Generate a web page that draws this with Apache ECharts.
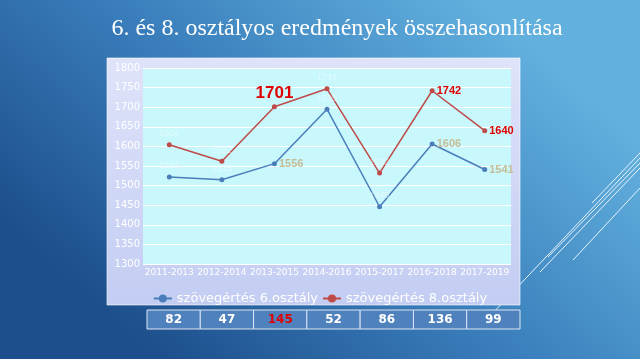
<!DOCTYPE html>
<html><head><meta charset="utf-8">
<script src="https://cdn.jsdelivr.net/npm/echarts@6/dist/echarts.min.js"></script>
<style>html,body{margin:0;padding:0;}#c{width:640px;height:359px;}</style>
</head><body><div id="c"></div>
<script>
var categories = ['2011-2013','2012-2014','2013-2015','2014-2016','2015-2017','2016-2018','2017-2019'];
var grade6 = [1522, 1515, 1556, 1695, 1446, 1606, 1541];
var grade8 = [1604, 1562, 1701, 1747, 1532, 1742, 1640];
var differences = [82, 47, 145, 52, 86, 136, 99];
var yTicks = {min: 1300, max: 1800, step: 50};
var seriesNames = ['szövegértés 6.osztály', 'szövegértés 8.osztály'];
var titleText = '6. és 8. osztályos eredmények összehasonlítása';

var maxDiff = Math.max.apply(null, differences);
var faint = {show: true, position: 'top', color: 'rgba(255,255,255,0.45)', fontSize: 9, distance: 4};

function lbl6(i) {
  if (i === 2 || i === 5 || i === 6) return {show: true, position: 'right', distance: 2, color: '#c4bd97', fontWeight: 'bold', fontSize: 11};
  return faint;
}
function lbl8(i) {
  if (i === 2) return {show: true, position: 'top', distance: 2, color: '#e00000', fontWeight: 'bold', fontSize: 17};
  if (i === 5 || i === 6) return {show: true, position: 'right', distance: 2, color: '#e00000', fontWeight: 'bold', fontSize: 11};
  return faint;
}

var chart = echarts.init(document.getElementById('c'));
chart.setOption({
  backgroundColor: {type: 'linear', x: 0.75, y: 0, x2: 0.25, y2: 1, colorStops: [
    {offset: 0, color: '#62b0de'}, {offset: 0.5, color: '#3a7fbc'}, {offset: 1, color: '#1d4f8c'}]},
  animation: false,
  title: {text: titleText, left: 332, top: 12, textAlign: 'center',
    textStyle: {color: '#ffffff', fontFamily: 'Liberation Serif', fontWeight: 'normal', fontSize: 24}},
  graphic: [
    {type: 'line', z: -20, shape: {x1: 640, y1: 153, x2: 592, y2: 203}, style: {stroke: '#e8f4ff', lineWidth: 1}},
    {type: 'line', z: -20, shape: {x1: 640, y1: 163, x2: 548, y2: 257}, style: {stroke: '#e8f4ff', lineWidth: 1}},
    {type: 'line', z: -20, shape: {x1: 640, y1: 168, x2: 540, y2: 272}, style: {stroke: '#e8f4ff', lineWidth: 1}},
    {type: 'line', z: -20, shape: {x1: 640, y1: 188, x2: 573, y2: 260}, style: {stroke: '#e8f4ff', lineWidth: 1}},
    {type: 'line', z: -20, shape: {x1: 640, y1: 158, x2: 490, y2: 316}, style: {stroke: '#e8f4ff', lineWidth: 1}},
    {type: 'rect', z: -10, shape: {x: 107, y: 58, width: 413, height: 247},
      style: {fill: {type: 'linear', x: 0, y: 0, x2: 0, y2: 1, colorStops: [{offset: 0, color: '#dfe3fa'}, {offset: 1, color: '#c3cdf2'}]},
        stroke: 'rgba(255,255,255,0.6)', lineWidth: 1}}
  ],
  legend: {data: seriesNames, left: 'center', top: 287, itemWidth: 18, itemHeight: 10, itemGap: 4,
    textStyle: {color: '#ffffff', fontSize: 13, fontFamily: 'DejaVu Sans'}},
  grid: [
    {left: 143, right: 129, top: 68, height: 196, show: true, backgroundColor: '#c8f8fc', borderWidth: 0},
    {left: 147, right: 120, top: 310, height: 19, show: false}
  ],
  xAxis: [
    {type: 'category', gridIndex: 0, data: categories, boundaryGap: true,
      axisLine: {show: false}, axisTick: {show: false},
      axisLabel: {color: '#ffffff', fontSize: 9, margin: 4, interval: 0, fontFamily: 'DejaVu Sans'}},
    {type: 'category', gridIndex: 1, data: categories, show: false}
  ],
  yAxis: [
    {type: 'value', gridIndex: 0, min: yTicks.min, max: yTicks.max, interval: yTicks.step,
      axisLine: {show: false}, axisTick: {show: false},
      splitLine: {lineStyle: {color: '#ffffff', width: 1}},
      axisLabel: {color: '#ffffff', fontSize: 10, margin: 3, fontFamily: 'DejaVu Sans', formatter: function (v) { return String(v); }}},
    {type: 'value', gridIndex: 1, min: 0, max: 1, show: false}
  ],
  series: [
    {name: seriesNames[0], type: 'line', xAxisIndex: 0, yAxisIndex: 0,
      data: grade6.map(function (v, i) { return {value: v, label: lbl6(i)}; }),
      symbol: 'circle', symbolSize: 5, itemStyle: {color: '#4a7ebb'}, lineStyle: {color: '#4a7ebb', width: 1.5}},
    {name: seriesNames[1], type: 'line', xAxisIndex: 0, yAxisIndex: 0,
      data: grade8.map(function (v, i) { return {value: v, label: lbl8(i)}; }),
      symbol: 'circle', symbolSize: 5, itemStyle: {color: '#be4b48'}, lineStyle: {color: '#be4b48', width: 1.5}},
    {type: 'custom', xAxisIndex: 1, yAxisIndex: 1, silent: true,
      data: differences.map(function (d, i) { return [i, d]; }),
      renderItem: function (params, api) {
        var c = api.coord([api.value(0), 0]);
        var w = api.size([1, 0])[0];
        var cs = params.coordSys;
        var v = api.value(1);
        return {type: 'group', children: [
          {type: 'rect', shape: {x: c[0] - w / 2, y: cs.y, width: w, height: cs.height},
            style: {fill: '#4f81bd', stroke: '#dce6f2', lineWidth: 1}},
          {type: 'text', style: {text: String(v), x: c[0], y: cs.y + cs.height / 2, textAlign: 'center', textVerticalAlign: 'middle',
            fill: v === maxDiff ? '#e00000' : '#ffffff', fontWeight: 'bold', fontSize: 12, fontFamily: 'DejaVu Sans'}}
        ]};
      }}
  ]
});
</script></body></html>
